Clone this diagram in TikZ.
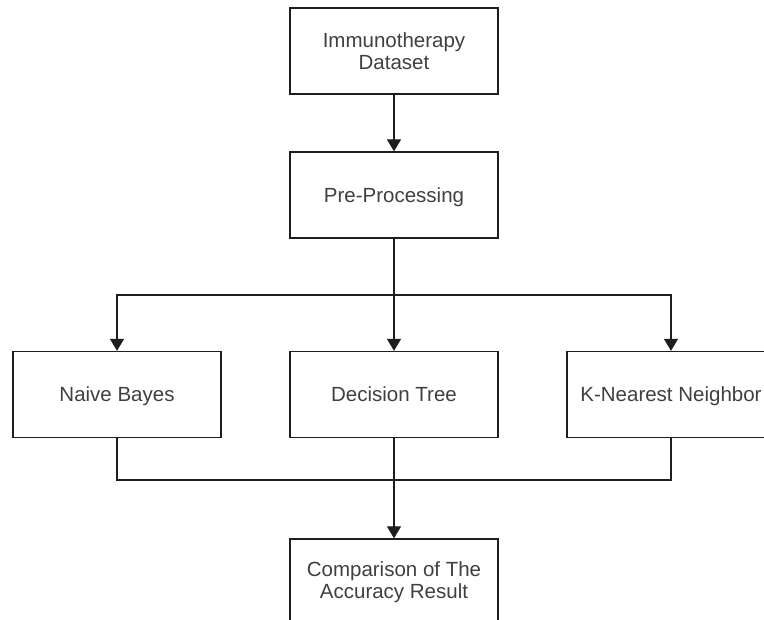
\documentclass[tikz,border=0pt]{standalone}
\usepackage{fontspec}
\setmainfont{Liberation Sans}
\usetikzlibrary{arrows.meta}
\definecolor{txt}{HTML}{404040}
\definecolor{ln}{HTML}{1E1E1E}
\tikzset{
  box/.style={draw=ln, line width=1.3pt, fill=white, minimum width=208pt, minimum height=86pt,
    inner sep=0pt, align=center, text=txt, font=\fontsize{20.5}{22.5}\selectfont},
  oneline/.style={box, text height=14.7pt, text depth=0pt},
  conn/.style={draw=ln, line width=1.3pt},
  arr/.style={conn, -{Triangle[width=14pt,length=12pt]}}
}
\begin{document}
\begin{tikzpicture}[x=1pt,y=-1pt]
\useasboundingbox (0,0) rectangle (764,620);
\fill[white] (0,0) rectangle (764,620);
\node[box] (data) at (394,51) {Immunotherapy\\Dataset};
\node[oneline] (pre) at (394,195) {Pre-Processing};
\node[oneline] (nb) at (117,394.5) {Naive Bayes};
\node[oneline] (dt) at (394,394.5) {Decision Tree};
\node[oneline] (knn) at (671,394.5) {K-Nearest Neighbor};
\node[box] (cmp) at (394,582) {Comparison of The\\Accuracy Result};
\coordinate (split) at (394,295);
\coordinate (merge) at (394,480);
\draw[arr] (data.south) -- (pre.north);
\draw[conn] (pre.south) -- (split);
\draw[arr] (split) -| (nb.north);
\draw[arr] (split) -- (dt.north);
\draw[arr] (split) -| (knn.north);
\draw[conn] (nb.south) |- (merge);
\draw[conn] (knn.south) |- (merge);
\draw[arr] (dt.south) -- (cmp.north);
\end{tikzpicture}
\end{document}
